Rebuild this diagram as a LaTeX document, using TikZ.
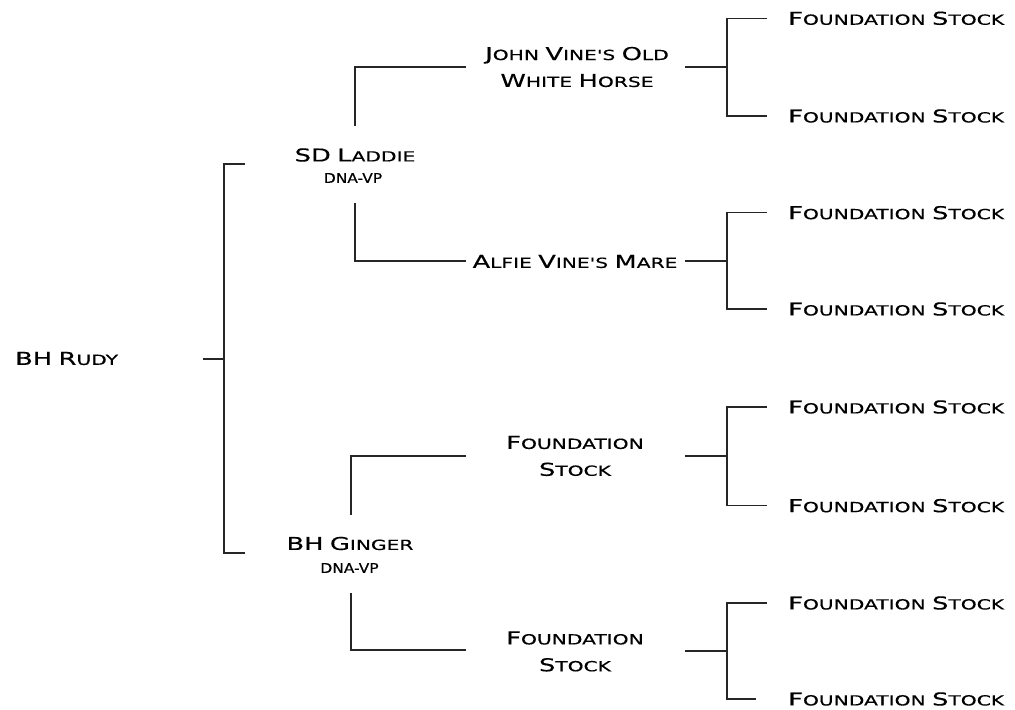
\documentclass[tikz,border=0pt]{standalone}
\usepackage{fontspec}
\newfontfamily\cpfont[FakeStretch=1.45,FakeBold=0.4]{DejaVu Sans}
\newfontfamily\cpnarrow[FakeStretch=1.15,FakeBold=0.4]{DejaVu Sans}
\newcommand\Cp[1]{{\fontsize{17.8}{27}\selectfont #1}}
\tikzset{
  lbl/.style={inner sep=0pt, font=\cpfont\fontsize{14}{27}\selectfont, align=center, text=black},
  dna/.style={inner sep=0pt, font=\cpnarrow\fontsize{13.5}{16}\selectfont, text=black},
  link/.style={draw=black!85, line width=1.5bp, line cap=rect}
}
\begin{document}
\begin{tikzpicture}[x=1bp,y=-1bp]
\useasboundingbox (0,0) rectangle (1015,710);
% generation 1
\node[lbl, anchor=west] (rudy) at (15,358.5) {\Cp{B}\Cp{H} \Cp{R}UDY};
% generation 2
\node[lbl] (laddie) at (355,155) {\Cp{S}\Cp{D} \Cp{L}ADDIE};
\node[dna] (laddiedna) at (353,178) {DNA-VP};
\node[lbl] (ginger) at (350,543.5) {\Cp{B}\Cp{H} \Cp{G}INGER};
\node[dna] (gingerdna) at (349.5,568) {DNA-VP};
% generation 3
\node[lbl] (john) at (577,67) {\Cp{J}OHN \Cp{V}INE'S \Cp{O}LD\\\Cp{W}HITE \Cp{H}ORSE};
\node[lbl] (alfie) at (575,261.5) {\Cp{A}LFIE \Cp{V}INE'S \Cp{M}ARE};
\node[lbl] (fsa) at (575,456) {\Cp{F}OUNDATION\\\Cp{S}TOCK};
\node[lbl] (fsb) at (575,651.5) {\Cp{F}OUNDATION\\\Cp{S}TOCK};
% generation 4
\foreach \n/\y in {1/18.3,2/116,3/212.7,4/309,5/407,6/505.7,7/603,8/699}{
  \node[lbl, anchor=west] (fs\n) at (788,\y) {\Cp{F}OUNDATION \Cp{S}TOCK};
}
% root bracket
\coordinate (r0) at (204,359);
\coordinate (r1) at (224,359);
\coordinate (rt) at (224,164);
\coordinate (rb) at (224,553);
\coordinate (rte) at (244,164);
\coordinate (rbe) at (244,553);
\draw[link] (r0) -- (r1);
\draw[link] (rte) -- (rt) -- (rb) -- (rbe);
% laddie bracket
\coordinate (la1) at (355,125);
\coordinate (la2) at (355,67);
\coordinate (la3) at (465,67);
\coordinate (lb1) at (355,204);
\coordinate (lb2) at (355,261);
\coordinate (lb3) at (465,261);
\draw[link] (la1) -- (la2) -- (la3);
\draw[link] (lb1) -- (lb2) -- (lb3);
% ginger bracket
\coordinate (ga1) at (351,514);
\coordinate (ga2) at (351,456);
\coordinate (ga3) at (465,456);
\coordinate (gb1) at (351,594);
\coordinate (gb2) at (351,650);
\coordinate (gb3) at (465,650);
\draw[link] (ga1) -- (ga2) -- (ga3);
\draw[link] (gb1) -- (gb2) -- (gb3);
% right brackets
\foreach \g/\yt/\yb/\ym/\xe in {1/18.3/116/67/766, 2/212.7/309/261/766, 3/407/505.7/456/766, 4/603/699/651/755}{
  \coordinate (m\g a) at (686,\ym);
  \coordinate (m\g b) at (727,\ym);
  \coordinate (t\g a) at (766,\yt);
  \coordinate (t\g b) at (727,\yt);
  \coordinate (b\g b) at (727,\yb);
  \coordinate (b\g a) at (\xe,\yb);
  \draw[link] (m\g a) -- (m\g b);
  \draw[link] (t\g a) -- (t\g b) -- (b\g b) -- (b\g a);
}
\end{tikzpicture}
\end{document}
